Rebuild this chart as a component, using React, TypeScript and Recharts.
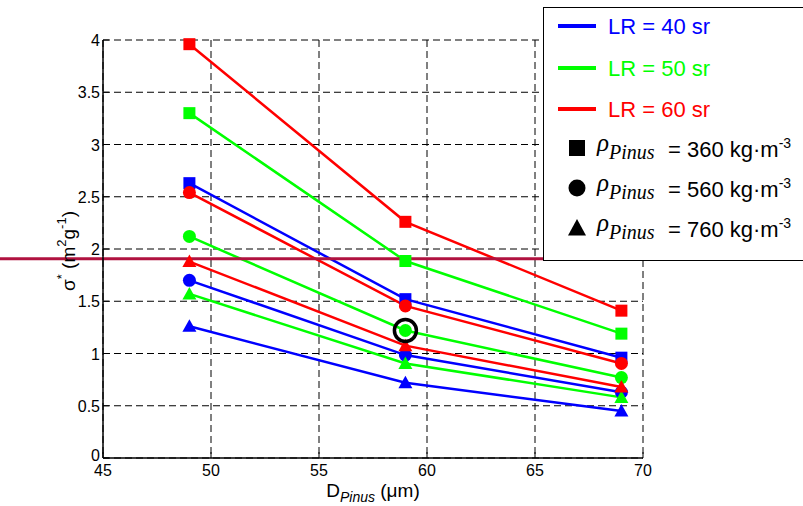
import React from "react";
import { LineChart, Line, XAxis, YAxis, CartesianGrid, ReferenceLine, ReferenceDot } from "recharts";

const FONT = "'Liberation Sans', Arial, sans-serif";
const SERIF = "'Liberation Serif', 'Times New Roman', serif";

const diameters = [49, 59, 69];
const xTicks = [45, 50, 55, 60, 65, 70];
const yTicks = [0, 0.5, 1, 1.5, 2, 2.5, 3, 3.5, 4];

// sigma* values per lidar ratio and pollen density
const lr40rho360 = [2.63, 1.52, 0.96];
const lr50rho360 = [3.3, 1.885, 1.19];
const lr60rho360 = [3.96, 2.26, 1.41];
const lr40rho560 = [1.7, 0.985, 0.63];
const lr50rho560 = [2.12, 1.22, 0.77];
const lr60rho560 = [2.54, 1.455, 0.905];
const lr40rho760 = [1.26, 0.72, 0.45];
const lr50rho760 = [1.57, 0.905, 0.58];
const lr60rho760 = [1.88, 1.075, 0.68];

const threshold = 1.907;
const circled = { x: 59, y: 1.22 };

const lrLabels = ["LR = 40 sr", "LR = 50 sr", "LR = 60 sr"];
const lrColors = ["#0000ff", "#00ff00", "#ff0000"];
const rhoLabels = ["360", "560", "760"];
const shapes = ["square", "circle", "triangle"];

const series = [
  { key: "lr40rho360", values: lr40rho360, color: lrColors[0], shape: shapes[0] },
  { key: "lr50rho360", values: lr50rho360, color: lrColors[1], shape: shapes[0] },
  { key: "lr60rho360", values: lr60rho360, color: lrColors[2], shape: shapes[0] },
  { key: "lr40rho560", values: lr40rho560, color: lrColors[0], shape: shapes[1] },
  { key: "lr50rho560", values: lr50rho560, color: lrColors[1], shape: shapes[1] },
  { key: "lr60rho560", values: lr60rho560, color: lrColors[2], shape: shapes[1] },
  { key: "lr40rho760", values: lr40rho760, color: lrColors[0], shape: shapes[2] },
  { key: "lr50rho760", values: lr50rho760, color: lrColors[1], shape: shapes[2] },
  { key: "lr60rho760", values: lr60rho760, color: lrColors[2], shape: shapes[2] },
];

const rows = diameters.map((d, i) => {
  const row: any = { d };
  series.forEach((s) => (row[s.key] = s.values[i]));
  return row;
});

function Marker({ cx, cy, fill, shape, size = 6 }: any) {
  if (shape === "square")
    return <rect x={cx - size} y={cy - size} width={size * 2} height={size * 2} fill={fill} />;
  if (shape === "circle") return <circle cx={cx} cy={cy} r={size + 0.5} fill={fill} />;
  return (
    <polygon
      points={`${cx},${cy - size - 1} ${cx + size + 1},${cy + size - 0.5} ${cx - size - 1},${cy + size - 0.5}`}
      fill={fill}
    />
  );
}

const XTick = ({ x, y, payload }: any) => (
  <g>
    <line x1={x} x2={x} y1={y} y2={y - 6} stroke="#000" />
    <text x={x} y={y + 18} textAnchor="middle" fontSize={16} fontFamily={FONT} fill="#000">
      {payload.value}
    </text>
  </g>
);

const YTick = ({ x, y, payload }: any) => (
  <g>
    <line x1={x} x2={x + 6} y1={y} y2={y} stroke="#000" />
    <text x={x - 3} y={payload.value === 0 ? y + 3 : y + 6} textAnchor="end" fontSize={16} fontFamily={FONT} fill="#000">
      {payload.value}
    </text>
  </g>
);

const XTitle = (props: any) => {
  const { x, y, width } = props.viewBox;
  return (
    <text x={x + width / 2} y={y + 39} textAnchor="middle" fontSize={19} fontFamily={FONT} fill="#000">
      D
      <tspan fontStyle="italic" fontSize={14} dy={5}>Pinus</tspan>
      <tspan dy={-5}> (μm)</tspan>
    </text>
  );
};

const YTitle = (props: any) => {
  const { y, height } = props.viewBox;
  const cx = 75;
  const cy = y + height / 2 + 2;
  return (
    <text x={cx} y={cy} transform={`rotate(-90, ${cx}, ${cy})`} textAnchor="middle" fontSize={19} fontFamily={FONT} fill="#000">
      σ<tspan fontSize={13} dy={-9}>*</tspan>
      <tspan dy={9}> (m</tspan>
      <tspan fontSize={13} dy={-9}>2</tspan>
      <tspan dy={9}>g</tspan>
      <tspan fontSize={13} dy={-9}>-1</tspan>
      <tspan dy={9}>)</tspan>
    </text>
  );
};

function LegendBox() {
  const lineRows = [19, 61, 102];
  const rhoRows = [141, 181, 221];
  return (
    <div style={{ position: "absolute", left: 543, top: 7, width: 270, height: 254 }}>
      <svg width={270} height={254}>
        <rect x={0.5} y={0.5} width={300} height={253} fill="#fff" stroke="#000" />
        {lrLabels.map((lab, i) => (
          <g key={lab}>
            <line x1={15} x2={53} y1={lineRows[i]} y2={lineRows[i]} stroke={lrColors[i]} strokeWidth={4} />
            <text x={65} y={lineRows[i] + 8} fontSize={22} fontFamily={FONT} fill={lrColors[i]}>
              {lab}
            </text>
          </g>
        ))}
        {rhoLabels.map((r, i) => (
          <g key={r}>
            <Marker cx={34} cy={rhoRows[i]} fill="#000" shape={shapes[i]} size={8} />
            <text x={54} y={rhoRows[i] + 3} fontSize={25} fontFamily={SERIF} fontStyle="italic" fill="#000">
              ρ
            </text>
            <text x={66} y={rhoRows[i] + 11} fontSize={20} fontFamily={SERIF} fontStyle="italic" fill="#000">
              Pinus
            </text>
            <text x={125} y={rhoRows[i] + 9} fontSize={22} fontFamily={FONT} fill="#000">
              = {r} kg·m<tspan fontSize={14} dy={-9}>-3</tspan>
            </text>
          </g>
        ))}
      </svg>
    </div>
  );
}

export default function App() {
  return (
    <div style={{ position: "absolute", left: 0, top: 0, width: 803, height: 506, overflow: "hidden", background: "#fff" }}>
      <LineChart width={803} height={506} data={rows} margin={{ top: 40, right: 160, bottom: 0, left: 0 }}>
        <CartesianGrid stroke="#000" strokeDasharray="7 4" />
        <XAxis
          dataKey="d"
          type="number"
          domain={[45, 70]}
          ticks={xTicks}
          interval={0}
          height={48}
          tickSize={0}
          tickMargin={0}
          tickLine={false}
          tick={<XTick />}
          axisLine={{ stroke: "#000", strokeWidth: 1.5 }}
          label={{ content: (p: any) => <XTitle {...p} /> }}
        />
        <YAxis
          type="number"
          domain={[0, 4]}
          ticks={yTicks}
          interval={0}
          width={103}
          tickSize={0}
          tickMargin={0}
          tickLine={false}
          tick={<YTick />}
          axisLine={{ stroke: "#000", strokeWidth: 1.5 }}
          label={{ content: (p: any) => <YTitle {...p} /> }}
        />
        {series.map((s) => (
          <Line
            key={s.key}
            dataKey={s.key}
            stroke={s.color}
            strokeWidth={2.5}
            isAnimationActive={false}
            dot={(p: any) => <Marker key={`${s.key}-${p.index}`} cx={p.cx} cy={p.cy} fill={s.color} shape={s.shape} />}
            activeDot={false}
          />
        ))}
        <ReferenceLine
          y={threshold}
          shape={(p: any) => <line x1={0} x2={803} y1={p.y1} y2={p.y1} stroke="#b0123f" strokeWidth={3} />}
        />
        <ReferenceDot x={circled.x} y={circled.y} r={11} fill="none" stroke="#000" strokeWidth={3.5} />
      </LineChart>
      <LegendBox />
    </div>
  );
}
